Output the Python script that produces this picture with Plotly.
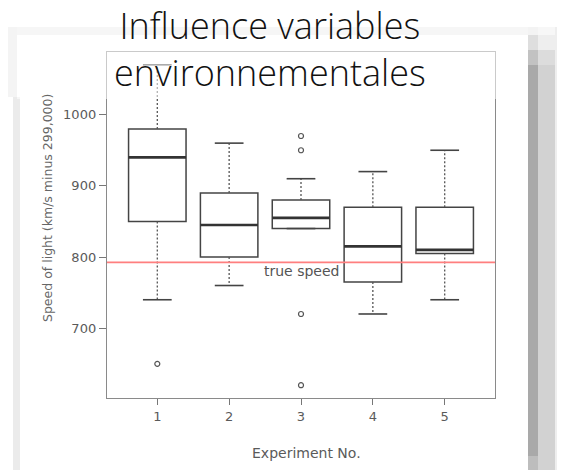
import plotly.graph_objects as go

# ---- data (Michelson speed-of-light experiments, boxplot statistics) ----
experiments = [1, 2, 3, 4, 5]
q1 = [850, 800, 840, 765, 805]
median = [940, 845, 855, 815, 810]
q3 = [980, 890, 880, 870, 870]
whisker_low = [740, 760, 840, 720, 740]
whisker_high = [1070, 960, 910, 920, 950]
outlier_x = [1, 3, 3, 3, 3]
outlier_y = [650, 620, 720, 950, 970]
true_speed = 792.458
xtick_labels = ["1", "2", "3", "4", "5"]
ytick_vals = [700, 800, 900, 1000]

W, H = 565, 470
OFF = 8  # page body margin
# plot frame in page pixels
L, R, T, B = 107, 495, 52, 398


def px(xp):
    return (xp - L) / (R - L)


def py(yp):
    return (B - yp) / (B - T)


fig = go.Figure()

half = 0.4
cap = 0.2
for i, x in enumerate(experiments):
    fig.add_trace(go.Box(
        x=[x], q1=[q1[i]], median=[median[i]], q3=[q3[i]],
        lowerfence=[q1[i]], upperfence=[q3[i]],
        width=0.8, whiskerwidth=0, boxpoints=False,
        fillcolor="rgba(0,0,0,0)",
        line=dict(color="#444", width=1.5),
        showlegend=False, hoverinfo="skip",
    ))

# whiskers (dotted)
wx, wy = [], []
for i, x in enumerate(experiments):
    wx += [x, x, None, x, x, None]
    wy += [q3[i], whisker_high[i], None, q1[i], whisker_low[i], None]
fig.add_trace(go.Scatter(x=wx, y=wy, mode="lines",
                         line=dict(color="#555", width=1.3, dash="2px,2px"),
                         showlegend=False, hoverinfo="skip"))

# caps
cx, cy = [], []
for i, x in enumerate(experiments):
    for v in (whisker_high[i], whisker_low[i]):
        cx += [x - cap, x + cap, None]
        cy += [v, v, None]
fig.add_trace(go.Scatter(x=cx, y=cy, mode="lines",
                         line=dict(color="#444", width=1.6),
                         showlegend=False, hoverinfo="skip"))

# medians (thick)
mx, my = [], []
for i, x in enumerate(experiments):
    mx += [x - half, x + half, None]
    my += [median[i], median[i], None]
fig.add_trace(go.Scatter(x=mx, y=my, mode="lines",
                         line=dict(color="#333", width=2.6),
                         showlegend=False, hoverinfo="skip"))

# outliers
fig.add_trace(go.Scatter(x=outlier_x, y=outlier_y, mode="markers",
                         marker=dict(symbol="circle-open", size=5,
                                     color="#555", line=dict(width=1.2)),
                         showlegend=False, hoverinfo="skip"))

shapes = []


def rect(x0, y0, x1, y1, color, layer="below", opacity=1.0):
    shapes.append(dict(type="rect", xref="paper", yref="paper",
                       x0=px(x0), x1=px(x1), y0=py(y1), y1=py(y0),
                       fillcolor=color, line=dict(width=0),
                       layer=layer, opacity=opacity))


# background of the embedded picture (page pixels)
rect(8, 27, 17, 97, "#f4f4f4")
rect(13, 97, 20, 470, "#ebebeb")
rect(17, 27, 528, 35, "#f6f6f6")
# right-hand grey stripes
rect(528, 27, 538, 35, "#f3f3f3")
rect(528, 35, 538, 50, "#dedede")
rect(528, 50, 538, 65, "#c2c2c2")
rect(528, 65, 538, 456, "#a9a9a9")
rect(528, 456, 538, 470, "#bdbdbd")
rect(538, 27, 555, 35, "#f7f7f7")
rect(538, 35, 555, 50, "#eeeeee")
rect(538, 50, 555, 65, "#dcdcdc")
rect(538, 65, 555, 470, "#d2d2d2")
rect(555, 27, 566, 470, "#eeeeee")
# whitish veil under the title
rect(17, 35, 528, 99, "white", layer="above", opacity=0.55)

# true speed line
shapes.append(dict(type="line", xref="paper", yref="y", x0=0, x1=1,
                   y0=true_speed, y1=true_speed,
                   line=dict(color="#ff7f7f", width=1.6), layer="above"))

tick_font = dict(family="DejaVu Sans", size=13, color="#5a5a5a")

fig.update_layout(
    width=W, height=H, autosize=False,
    margin=dict(l=L - OFF, r=W - (R - L) - (L - OFF),
                t=T - OFF, b=H - (B - T) - (T - OFF)),
    paper_bgcolor="white", plot_bgcolor="white",
    shapes=shapes,
    boxmode="overlay",
    xaxis=dict(range=[0.3, 5.7], tickvals=experiments, ticktext=xtick_labels,
               ticks="outside", ticklen=6, tickcolor="#777", tickwidth=1.2,
               showline=True, linecolor="#8a8a8a", linewidth=1.4, mirror=True,
               showgrid=False, zeroline=False, tickfont=tick_font),
    yaxis=dict(range=[602, 1088], tickvals=ytick_vals,
               ticks="outside", ticklen=7, tickcolor="#777", tickwidth=1.2,
               showline=True, linecolor="#8a8a8a", linewidth=1.4, mirror=True,
               showgrid=False, zeroline=False, tickfont=tick_font),
    annotations=[
        dict(text="Influence variables<br>environnementales",
             x=px(270), y=py(-1), xref="paper", yref="paper",
             xanchor="center", yanchor="top", showarrow=False,
             font=dict(family="Open Sans", size=36, color="#111", weight=300)),
        dict(text="true speed", x=3, y=true_speed, xref="x", yref="y",
             showarrow=False, yanchor="top", yshift=1,
             font=dict(family="DejaVu Sans", size=14, color="#555")),
        dict(text="Experiment No.", x=px(306), y=py(453), xref="paper",
             yref="paper", showarrow=False, xanchor="center", yanchor="middle",
             font=dict(family="DejaVu Sans", size=14, color="#5a5a5a")),
        dict(text="Speed of light (km/s minus 299,000)", textangle=-90,
             x=px(47), y=py(208), xref="paper", yref="paper",
             showarrow=False, xanchor="center", yanchor="middle",
             font=dict(family="DejaVu Sans", size=12.5, color="#666")),
    ],
)

fig.write_html("out.html")
